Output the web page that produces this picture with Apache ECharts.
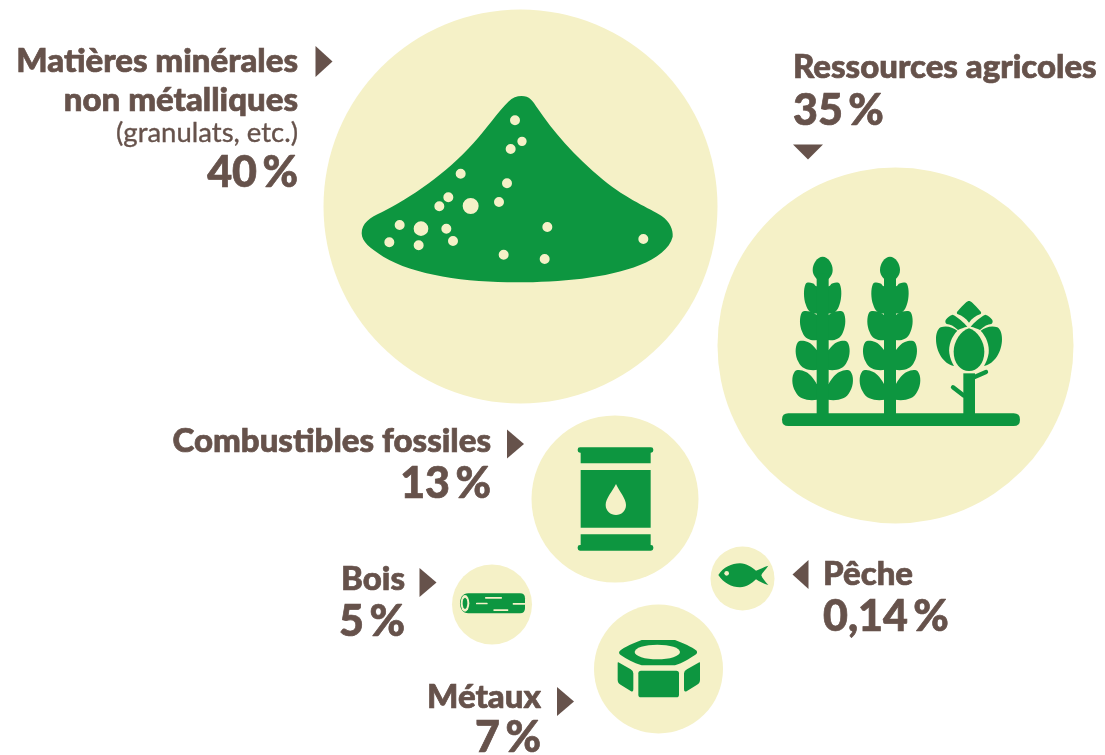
<!DOCTYPE html>
<html>
<head>
<meta charset="utf-8">
<style>html,body{margin:0;padding:0;background:#fff}#c{width:1105px;height:755px}</style>
<script src="https://cdn.jsdelivr.net/npm/echarts@6/dist/echarts.min.js"></script>
</head>
<body>
<div id="c"></div>
<script>
// ---- data ----
const categories = ['Matières minérales\nnon métalliques', 'Ressources agricoles', 'Combustibles fossiles', 'Métaux', 'Bois', 'Pêche'];
const categoryNotes = ['(granulats, etc.)', '', '', '', '', ''];
const shares = [40, 35, 13, 7, 5, 0.14];

// ---- layout (page units) ----
const bubbleX = [520.5, 895.5, 615, 658.5, 492, 742.5];
const bubbleY = [206.5, 345.5, 499, 669, 604.5, 578.5];
const bubbleR = [197, 178, 83.5, 64.5, 40, 32];
const GREEN = '#0d9640', CREAM = '#f5f1c7', TEXT = '#66524b';
const FONT = 'Lato, sans-serif';

// label anchors: x, align, y of each line
const labelLayout = [
  {x: 298, align: 'right', nameY: [61, 100], noteY: 133, shareY: 173},
  {x: 793, align: 'left', nameY: [67], shareY: 111},
  {x: 491, align: 'right', nameY: [441], shareY: 484},
  {x: 541, align: 'right', nameY: [697], shareY: 738},
  {x: 405, align: 'right', nameY: [579], shareY: 622},
  {x: 823, align: 'left', nameY: [574], shareY: 617}
];
// pointer triangles: centre x, centre y, half width, half height, direction
const pointers = [
  {x: 324, y: 61.5, w: 8.5, h: 15.5, dir: 'r'},
  {x: 808, y: 152, w: 15, h: 7.5, dir: 'd'},
  {x: 515.5, y: 444, w: 8.5, h: 14.5, dir: 'r'},
  {x: 565.5, y: 701.5, w: 8.5, h: 14.5, dir: 'r'},
  {x: 428, y: 582.5, w: 8.5, h: 14.5, dir: 'r'},
  {x: 800.5, y: 574.5, w: 8, h: 14.5, dir: 'l'}
];

// ---- icon drawing helpers; icon geometry is written at 3x around a crop origin ----
const dot = (x, y, r, ry) => { ry = ry || r; return `M${x - r},${y}A${r},${ry} 0 1,0 ${x + r},${y}A${r},${ry} 0 1,0 ${x - r},${y}Z`; };
const rrect = (x0, y0, x1, y1, r) => `M${x0 + r},${y0}L${x1 - r},${y0}Q${x1},${y0} ${x1},${y0 + r}L${x1},${y1 - r}Q${x1},${y1} ${x1 - r},${y1}L${x0 + r},${y1}Q${x0},${y1} ${x0},${y1 - r}L${x0},${y0 + r}Q${x0},${y0} ${x0 + r},${y0}Z`;
// n = how far down the stem the notch above the leaf reaches (fraction of leaf height)
const leaf = (cx, s, w, top, bottom, n) => {
  const h = bottom - top, X = d => cx - s * d * w, Y = d => top + d * h, k = n / .47;
  return `M${cx},${Y(.97)}C${X(.35)},${Y(1.03)} ${X(.75)},${Y(1.05)} ${X(.9)},${Y(.72)}C${X(1.03)},${Y(.5)} ${X(1.03)},${Y(.2)} ${X(.92)},${Y(.05)}C${X(.85)},${Y(-.02)} ${X(.7)},${Y(-.01)} ${X(.55)},${Y(.07 * k)}C${X(.42)},${Y(.13 * k)} ${cx - s * 26},${Y(.3 * k)} ${cx - s * 18},${Y(n)}L${cx},${Y(n + .05)}Z`;
};
const wheat = cx => [
  `M${cx},50C${cx + 16},50 ${cx + 30},70 ${cx + 30},90C${cx + 30},108 ${cx + 16},122 ${cx},126C${cx - 16},122 ${cx - 30},108 ${cx - 30},90C${cx - 30},70 ${cx - 16},50 ${cx},50Z`,
  leaf(cx, 1, 56, 128, 220, .12), leaf(cx, -1, 56, 128, 220, .12),
  leaf(cx, 1, 68, 213, 300, .14), leaf(cx, -1, 68, 213, 300, .14),
  leaf(cx, 1, 81, 302, 390, .32), leaf(cx, -1, 81, 302, 390, .32),
  leaf(cx, 1, 91, 390, 480, .47), leaf(cx, -1, 91, 390, 480, .47),
  rrect(cx - 18, 100, cx + 18, 525, 0)
];

const moundHoles = [[525,121,15],[546,184,14],[512,207,15],[362,281,15],[501,310,15],[325,352,15],[298,379,15],[392,378,24],[477,366,15],[179,435,15],[243,446,22],[319,446,15],[622,441,15],[339,483,15],[148,487,15],[236,496,15],[491,524,15],[614,537,15],[910,477,15]];

const icons = [
  {crop: [340, 80], parts: [
    [GREEN, 'M545,48C568,48 578,62 592,84C640,155 700,225 790,300C860,358 930,385 965,408C990,425 1000,450 998,470C990,505 950,535 900,555C800,595 660,607 530,607C380,607 220,585 130,530C90,505 65,485 65,460C65,430 90,412 125,397C210,355 320,280 400,190C440,145 475,95 505,65C518,53 530,48 545,48Z'],
    [CREAM, moundHoles.map(d => dot(d[0], d[1], d[2])).join('')]
  ]},
  {crop: [770, 240], parts: [
    [GREEN, rrect(36, 520, 750, 558, 19)],
    ...wheat(158).map(d => [GREEN, d]),
    ...wheat(360).map(d => [GREEN, d]),
    // artichoke
    [GREEN, 'M597,265C622,272 643,305 643,335C643,370 622,393 597,393C572,393 551,370 551,335C551,305 572,272 597,265Z'],
    [GREEN, 'M512,262C530,256 548,262 562,272C545,290 535,315 538,340C540,355 546,368 552,378C520,372 498,335 498,298C498,282 502,268 512,262Z'],
    [GREEN, 'M682,262C664,256 646,262 632,272C649,290 659,315 656,340C654,355 648,368 642,378C674,372 696,335 696,298C696,282 692,268 682,262Z'],
    [GREEN, 'M527,240C532,232 540,226 548,224C565,232 582,248 592,260C582,262 572,266 564,270C552,258 540,253 530,252C526,250 525,245 527,240Z'],
    [GREEN, 'M667,240C662,232 654,226 646,224C629,232 612,248 602,260C612,262 622,266 630,270C642,258 654,253 664,252C668,250 669,245 667,240Z'],
    [GREEN, 'M597,183C603,183 608,188 633,216C634,219 633,222 630,223C618,227 605,236 597,248C589,236 576,227 564,223C561,222 560,219 561,216C586,188 591,183 597,183Z'],
    [GREEN, 'M580,400L615,400L615,525L580,525Z'],
    [GREEN, 'M580,466L549,442M612,412L648,396', 13]
  ]},
  {crop: [440, 430], parts: [
    // barrel
    [GREEN, rrect(413, 52, 640, 68, 7) + rrect(422, 52, 632, 100, 0)],
    [GREEN, rrect(422, 120, 632, 293, 0)],
    [CREAM, 'M528,162C538,185 558,205 558,225C558,243 544,255 528,255C512,255 497,243 497,225C497,205 517,185 528,162Z'],
    [GREEN, rrect(422, 313, 632, 358, 0) + rrect(413, 345, 640, 362, 7)],
    // log
    [GREEN, 'M85,490L240,490Q255,490 255,505L255,535Q255,550 240,550L85,550C68,550 60,536 60,520C60,504 68,490 85,490Z'],
    [CREAM, dot(75, 520, 13, 25)],
    [GREEN, dot(75, 520, 7, 17)],
    [CREAM, rrect(135, 501, 186, 506, 2) + rrect(108, 518, 143, 523, 2) + rrect(160, 538, 205, 543, 2) + rrect(218, 519, 258, 524, 2)],
    // fish
    [GREEN, 'M835,435C850,412 875,400 900,400C920,400 935,412 948,422C960,418 972,410 985,407C978,418 966,428 964,436C966,444 976,455 985,465C972,462 958,455 948,448C935,460 920,472 900,472C875,472 850,458 835,435Z'],
    [CREAM, dot(860, 430, 7)],
    // nut
    [GREEN, 'M605,630L705,630C730,640 755,650 770,662C772,668 772,670 765,675C745,688 730,698 705,706L605,706C580,698 560,688 542,675C536,670 536,666 540,662C555,650 580,640 605,630Z'],
    [CREAM, dot(652, 666, 68, 22)],
    [GREEN, rrect(595, 722, 717, 802, 8)],
    [GREEN, 'M535,697L572,718Q580,722 580,730L580,778Q580,788 572,783L543,765Q533,760 533,750L533,700Q533,695 535,697Z'],
    [GREEN, 'M778,697L741,718Q732,722 732,730L732,778Q732,788 741,783L770,765Q780,760 780,750L780,700Q780,695 778,697Z']
  ]}
];

const shareText = v => String(v).replace('.', ',') + '\u2009%';

const chart = echarts.init(document.getElementById('c'), null, {renderer: 'canvas'});
chart.setOption({
  animation: false,
  backgroundColor: '#ffffff',
  grid: {left: 0, right: 0, top: 0, bottom: 0},
  xAxis: {type: 'value', min: 0, max: 1105, show: false},
  yAxis: {type: 'value', min: 0, max: 755, inverse: true, show: false},
  series: [
    {
      type: 'scatter', name: 'bubbles', silent: true, z: 1,
      data: categories.map((c, i) => ({name: c, value: [bubbleX[i], bubbleY[i], shares[i]], symbolSize: bubbleR[i] * 2})),
      itemStyle: {color: CREAM, opacity: 1}
    },
    {
      type: 'custom', name: 'icons', silent: true, z: 2,
      data: icons.map((c, i) => [c.crop[0], c.crop[1], i]),
      coordinateSystem: 'cartesian2d',
      clip: false,
      renderItem: (p, api) => {
        const ic = icons[api.value(2)], o = api.coord([api.value(0), api.value(1)]);
        return {type: 'group', children: ic.parts.map(part => ({
          type: 'path', x: o[0], y: o[1], scaleX: 1 / 3, scaleY: 1 / 3,
          shape: {pathData: part[1]},
          style: part[2] ? {fill: null, stroke: part[0], lineWidth: part[2], lineCap: 'round'} : {fill: part[0], stroke: null}
        }))};
      }
    },
    {
      type: 'custom', name: 'pointers', silent: true, z: 3,
      data: pointers.map((c, i) => [c.x, c.y, i]),
      clip: false,
      renderItem: (p, api) => {
        const t = pointers[api.value(2)], o = api.coord([api.value(0), api.value(1)]);
        const pts = {
          r: [[-t.w, -t.h], [t.w, 0], [-t.w, t.h]],
          l: [[t.w, -t.h], [-t.w, 0], [t.w, t.h]],
          d: [[-t.w, -t.h], [t.w, -t.h], [0, t.h]]
        }[t.dir];
        return {type: 'polygon', x: o[0], y: o[1], shape: {points: pts}, style: {fill: TEXT}};
      }
    },
    {
      type: 'custom', name: 'labels', silent: true, z: 4,
      data: categories.map((c, i) => [labelLayout[i].x, labelLayout[i].shareY, i]),
      clip: false,
      renderItem: (p, api) => {
        const i = api.value(2), L = labelLayout[i], x = api.coord([L.x, 0])[0], kids = [];
        const add = (text, y, font, stroke) => kids.push({type: 'text', style: {text, x, y: api.coord([0, y])[1], align: L.align, verticalAlign: 'middle', font, fill: TEXT, stroke: TEXT, lineWidth: stroke}});
        categories[i].split('\n').forEach((line, k) => add(line, L.nameY[k], `900 33px ${FONT}`, 0.7));
        if (categoryNotes[i]) add(categoryNotes[i], L.noteY, `400 27.5px ${FONT}`, 0.35);
        add(shareText(shares[i]), L.shareY, `900 43px ${FONT}`, 0.7);
        return {type: 'group', children: kids};
      }
    }
  ]
});
</script>
</body>
</html>
